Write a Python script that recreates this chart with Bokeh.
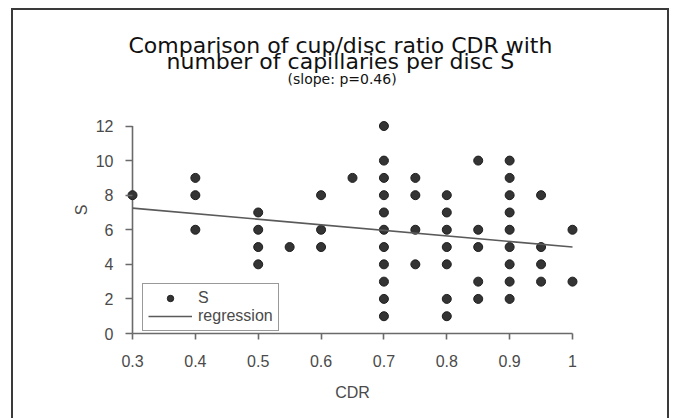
from bokeh.plotting import figure
from bokeh.models import Range1d, FixedTicker, Legend, LegendItem, Title
from bokeh.embed import file_html
from bokeh.resources import INLINE

# ---- data ----
cdr = [0.3,
       0.4, 0.4, 0.4,
       0.5, 0.5, 0.5, 0.5,
       0.55,
       0.6, 0.6, 0.6,
       0.65,
       0.7, 0.7, 0.7, 0.7, 0.7, 0.7, 0.7, 0.7, 0.7, 0.7, 0.7,
       0.75, 0.75, 0.75, 0.75,
       0.8, 0.8, 0.8, 0.8, 0.8, 0.8, 0.8,
       0.85, 0.85, 0.85, 0.85, 0.85,
       0.9, 0.9, 0.9, 0.9, 0.9, 0.9, 0.9, 0.9, 0.9,
       0.95, 0.95, 0.95, 0.95,
       1.0, 1.0]
s_vals = [8,
          9, 8, 6,
          7, 6, 5, 4,
          5,
          8, 6, 5,
          9,
          12, 10, 9, 8, 7, 6, 5, 4, 3, 2, 1,
          9, 8, 6, 4,
          8, 7, 6, 5, 4, 2, 1,
          10, 6, 5, 3, 2,
          10, 9, 8, 7, 6, 5, 4, 3, 2,
          8, 5, 4, 3,
          6, 3]
reg_cdr = [0.3, 1.0]
reg_s = [7.25, 5.0]

x_ticks = [0.3, 0.4, 0.5, 0.6, 0.7, 0.8, 0.9, 1.0]
x_tick_labels = ["0.3", "0.4", "0.5", "0.6", "0.7", "0.8", "0.9", "1"]
y_ticks = [0, 2, 4, 6, 8, 10, 12]

title_line1 = "Comparison of cup/disc ratio CDR with"
title_line2 = "number of capillaries per disc S"
subtitle = "(slope: p=0.46)"

# ---- figure ----
# the frame reaches a little above 12 (blank band under the titles);
# the axes themselves are bounded to the tick range
p = figure(width=654, height=408, frame_width=454, frame_height=247,
           min_border_left=112, min_border_right=88,
           min_border_top=76, min_border_bottom=85,
           x_range=Range1d(0.28886, 1.01114), y_range=Range1d(0, 14.286),
           output_backend="svg", toolbar_location=None)
p.styles = {"border-top": "2px solid #3a3a3a",
            "border-left": "2px solid #3a3a3a",
            "border-right": "2px solid #3a3a3a",
            "margin-left": "11px",
            "margin-top": "8px"}
p.outline_line_color = None
p.xgrid.grid_line_color = None
p.ygrid.grid_line_color = None
p.background_fill_color = "white"
p.border_fill_color = "white"

axis_color = "#6a6a6a"
label_color = "#4a4a4a"
for ax in (p.xaxis, p.yaxis):
    ax.axis_line_color = axis_color
    ax.axis_line_width = 1.6
    ax.major_tick_line_color = axis_color
    ax.major_tick_line_width = 1.6
    ax.minor_tick_line_color = None
    ax.major_label_text_font = "Liberation Sans"
    ax.major_label_text_font_size = "16px"
    ax.major_label_text_color = label_color
    ax.axis_label_text_font = "Liberation Sans"
    ax.axis_label_text_font_size = "16px"
    ax.axis_label_text_font_style = "normal"
    ax.axis_label_text_color = label_color

p.xaxis.ticker = FixedTicker(ticks=x_ticks)
p.xaxis.major_label_overrides = dict(zip(x_ticks, x_tick_labels))
p.xaxis.bounds = (x_ticks[0], x_ticks[-1])
p.xaxis.major_tick_in = 0
p.xaxis.major_tick_out = 6
p.xaxis.major_label_standoff = 15
p.xaxis.axis_label = "CDR"
p.xaxis.axis_label_standoff = 14

# y axis sits at the frame edge; its ticks point inward up to x = 0.3,
# where the visible axis line is drawn
p.yaxis.ticker = FixedTicker(ticks=y_ticks)
p.yaxis.bounds = (y_ticks[0], y_ticks[-1])
p.yaxis.axis_line_color = None
p.yaxis.major_tick_in = 7
p.yaxis.major_tick_out = 0
p.yaxis.major_label_standoff = 12
p.yaxis.axis_label = "S"
p.yaxis.axis_label_standoff = 3

p.segment(x0=[x_ticks[0]], y0=[y_ticks[0]], x1=[x_ticks[0]], y1=[y_ticks[-1]],
          line_color=axis_color, line_width=1.6)

# ---- data glyphs ----
r_pts = p.scatter(cdr, s_vals, size=9, marker="circle",
                  fill_color="#343434", line_color="#1e1e1e", line_width=1)
r_reg = p.line(reg_cdr, reg_s, line_color="#5a5a5a", line_width=1.6)

legend = Legend(items=[LegendItem(label="S", renderers=[r_pts]),
                       LegendItem(label="regression", renderers=[r_reg])],
                location=(17, 2), orientation="vertical",
                border_line_color="#333333", border_line_width=1.6,
                background_fill_color="white", background_fill_alpha=1,
                label_text_font="Liberation Sans", label_text_font_size="16px",
                label_text_color="#4a4a4a",
                glyph_width=44, glyph_height=16, label_height=16,
                label_standoff=6, spacing=0, padding=5, margin=0)
p.add_layout(legend)

# ---- titles (stacked above the frame; first added sits nearest the frame) ----
title_style = dict(align="left", vertical_align="bottom",
                   text_font="DejaVu Sans", text_font_style="normal",
                   text_color="#111111")
p.add_layout(Title(text=subtitle, offset=162, standoff=-1,
                   text_font_size="14px", **title_style), "above")
p.add_layout(Title(text=title_line2, offset=41, standoff=-9,
                   text_font_size="22px", **title_style), "above")
p.add_layout(Title(text=title_line1, offset=3, standoff=-13,
                   text_font_size="22px", **title_style), "above")

open("out.html", "w").write(file_html(p, INLINE))
